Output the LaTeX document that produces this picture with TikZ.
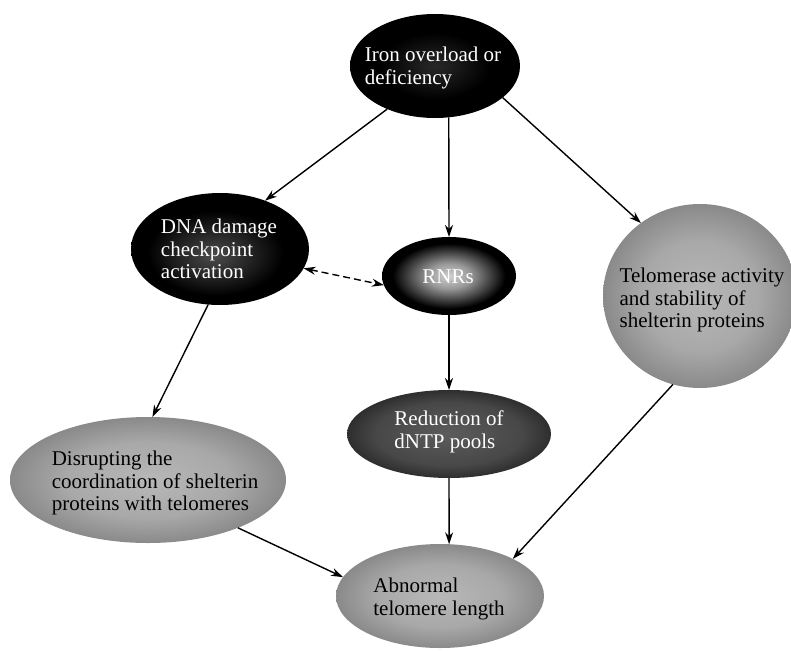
\documentclass[tikz,border=0pt]{standalone}
\usepackage{fontspec}
\setmainfont{Liberation Serif}
\usetikzlibrary{arrows.meta,shapes.geometric}
\pgfdeclareradialshading{ironshade}{\pgfpoint{0bp}{0bp}}{color(0bp)=(black!84!white); color(16bp)=(black); color(50bp)=(black)}
\pgfdeclareradialshading{dnashade}{\pgfpoint{-2bp}{-3bp}}{color(0bp)=(black!70!white); color(19bp)=(black); color(50bp)=(black)}
\pgfdeclareradialshading{rnrshade}{\pgfpoint{0bp}{0bp}}{color(0bp)=(black!18!white); color(8bp)=(black!40!white); color(21bp)=(black); color(50bp)=(black)}
\pgfdeclareradialshading{redshade}{\pgfpoint{0bp}{0bp}}{color(0bp)=(black!64!white); color(18bp)=(black!72!white); color(25bp)=(black!82!white); color(50bp)=(black!82!white)}
\pgfdeclareradialshading{grayshade}{\pgfpoint{0bp}{0bp}}{color(0bp)=(black!28!white); color(15bp)=(black!34!white); color(25bp)=(black!46!white); color(50bp)=(black!46!white)}
\tikzset{
  blob/.style={ellipse, inner sep=0pt, outer sep=0pt},
  lbl/.style={align=left, inner sep=0pt, font=\fontsize{21}{22.5}\selectfont},
  wlbl/.style={lbl, text=white},
  arr/.style={line width=1.4pt, -{Stealth[length=12pt,width=8pt]}},
  darr/.style={line width=1.4pt, {Stealth[length=12pt,width=8pt]}-{Stealth[length=12pt,width=8pt]}, dash pattern=on 7pt off 4pt}
}
\begin{document}
\begin{tikzpicture}[x=1pt,y=-1pt]
\useasboundingbox (0,0) rectangle (791,650);
\node[blob, shading=ironshade, minimum width=170pt, minimum height=104pt] (iron) at (435,66) {};
\node[wlbl] at (433,68) {Iron overload or\\deficiency};
\node[blob, shading=dnashade, minimum width=178pt, minimum height=112pt] (dna) at (220,249) {};
\node[wlbl] at (219,249) {DNA damage\\checkpoint\\activation};
\node[blob, shading=rnrshade, minimum width=134pt, minimum height=78pt] (rnr) at (449,276) {};
\node[wlbl] at (448,277) {RNRs};
\node[blob, shading=grayshade, minimum width=194pt, minimum height=184pt] (tel) at (700,296) {};
\node[lbl] at (702,300) {Telomerase activity\\and stability of\\shelterin proteins};
\node[blob, shading=redshade, minimum width=204pt, minimum height=88pt] (red) at (449,434) {};
\node[wlbl] at (449,432) {Reduction of\\dNTP pools};
\node[blob, shading=grayshade, minimum width=276pt, minimum height=126pt] (dis) at (148,480) {};
\node[lbl] at (155,483) {Disrupting the\\coordination of shelterin\\proteins with telomeres};
\node[blob, shading=grayshade, minimum width=208pt, minimum height=104pt] (abn) at (440,596) {};
\node[lbl] at (439,599) {Abnormal\\telomere length};
\draw[arr] (iron.222) -- (dna.47);
\draw[arr] (iron.285) -- (rnr.north);
\draw[arr] (iron.335) -- (tel.129);
\draw[darr] (dna.347) -- (rnr.188);
\draw[arr] (rnr.south) -- (red.north);
\draw[arr] (dna.258) -- (dis.86);
\draw[arr] (red.south) -- (abn.80);
\draw[arr] (dis.332) -- (abn.169);
\draw[arr] (tel.253) -- (abn.27);
\end{tikzpicture}
\end{document}
